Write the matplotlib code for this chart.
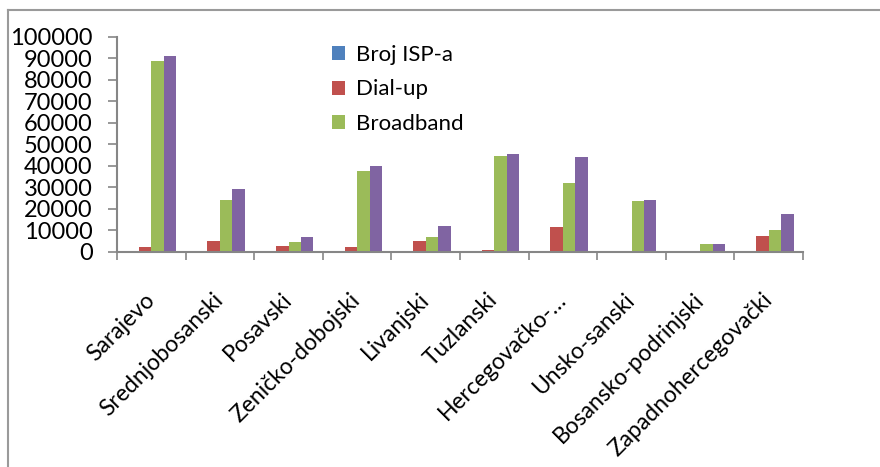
import matplotlib
matplotlib.use("Agg")
import matplotlib.pyplot as plt
import numpy as np
from matplotlib.lines import Line2D
from matplotlib.patches import Patch

categories = ["Sarajevo", "Srednjobosanski", "Posavski", "Zeničko-dobojski", "Livanjski",
              "Tuzlanski", "Hercegovačko-…", "Unsko-sanski", "Bosansko-podrinjski",
              "Zapadnohercegovački"]
broj_isp = [30, 8, 4, 10, 3, 8, 10, 6, 3, 5]
dial_up = [2500, 5100, 2600, 2500, 5100, 800, 11500, 0, 0, 7300]
broadband = [88700, 24000, 4700, 37500, 7000, 44800, 32300, 23600, 3900, 10100]
ukupno = [91200, 29500, 7200, 40200, 12300, 45600, 44000, 24000, 3900, 17500]

series_names = ["Broj ISP-a", "Dial-up", "Broadband", "Ukupno"]
colors = ["#4F81BD", "#C0504D", "#9BBB59", "#8064A2"]
yticks = list(range(0, 100001, 10000))

plt.rcParams['font.family'] = ['Lato', 'DejaVu Sans']

fig = plt.figure(figsize=(8.8, 4.67), dpi=100)
ax = fig.add_axes([117/880, 1-252/467, (803-117)/880, (252-37)/467])

n = len(categories)
x = np.arange(n)
bw = 1/5.5
data = [broj_isp, dial_up, broadband, ukupno]
for i, (vals, c, name) in enumerate(zip(data, colors, series_names)):
    ax.bar(x + (i-1.5)*bw, vals, width=bw, color=c, edgecolor='none', label=name)

ax.set_xlim(-0.5, n-0.5)
ax.set_ylim(0, 100000)
ax.set_yticks(yticks)
ax.set_yticklabels([str(v) for v in yticks], fontsize=17)
ax.set_xticks(x)
ax.set_xticklabels(categories, rotation=45, ha='right', va='center', rotation_mode='anchor', fontsize=16.5)
ax.tick_params(axis='x', which='major', length=0, pad=32)
ax.set_xticks(np.arange(-0.5, n, 1), minor=True)
ax.tick_params(axis='x', which='minor', length=6, color='#868686', width=1.2)
ax.tick_params(axis='y', length=6.5, color='#868686', width=1.2, pad=11)
for s in ['top', 'right']:
    ax.spines[s].set_visible(False)
for s in ['left', 'bottom']:
    ax.spines[s].set_color('#868686')
    ax.spines[s].set_linewidth(1.5)

handles = [Patch(facecolor=c, edgecolor='none') for c in colors[:3]]
ax.legend(handles, series_names[:3], loc='upper left', bbox_to_anchor=(0.3, 1.005),
          frameon=False, fontsize=16, handlelength=0.6, handleheight=0.6,
          handletextpad=0.5, labelspacing=0.66, borderaxespad=0)

# outer chart border (partially visible)
fig.add_artist(Line2D([7.5/880, 1], [1-10/467, 1-10/467], color='#9a9a9a', lw=1.5, transform=fig.transFigure))
fig.add_artist(Line2D([7.5/880, 7.5/880], [0, 1-10/467], color='#9a9a9a', lw=1.5, transform=fig.transFigure))

fig.savefig("out.png", dpi=100)
